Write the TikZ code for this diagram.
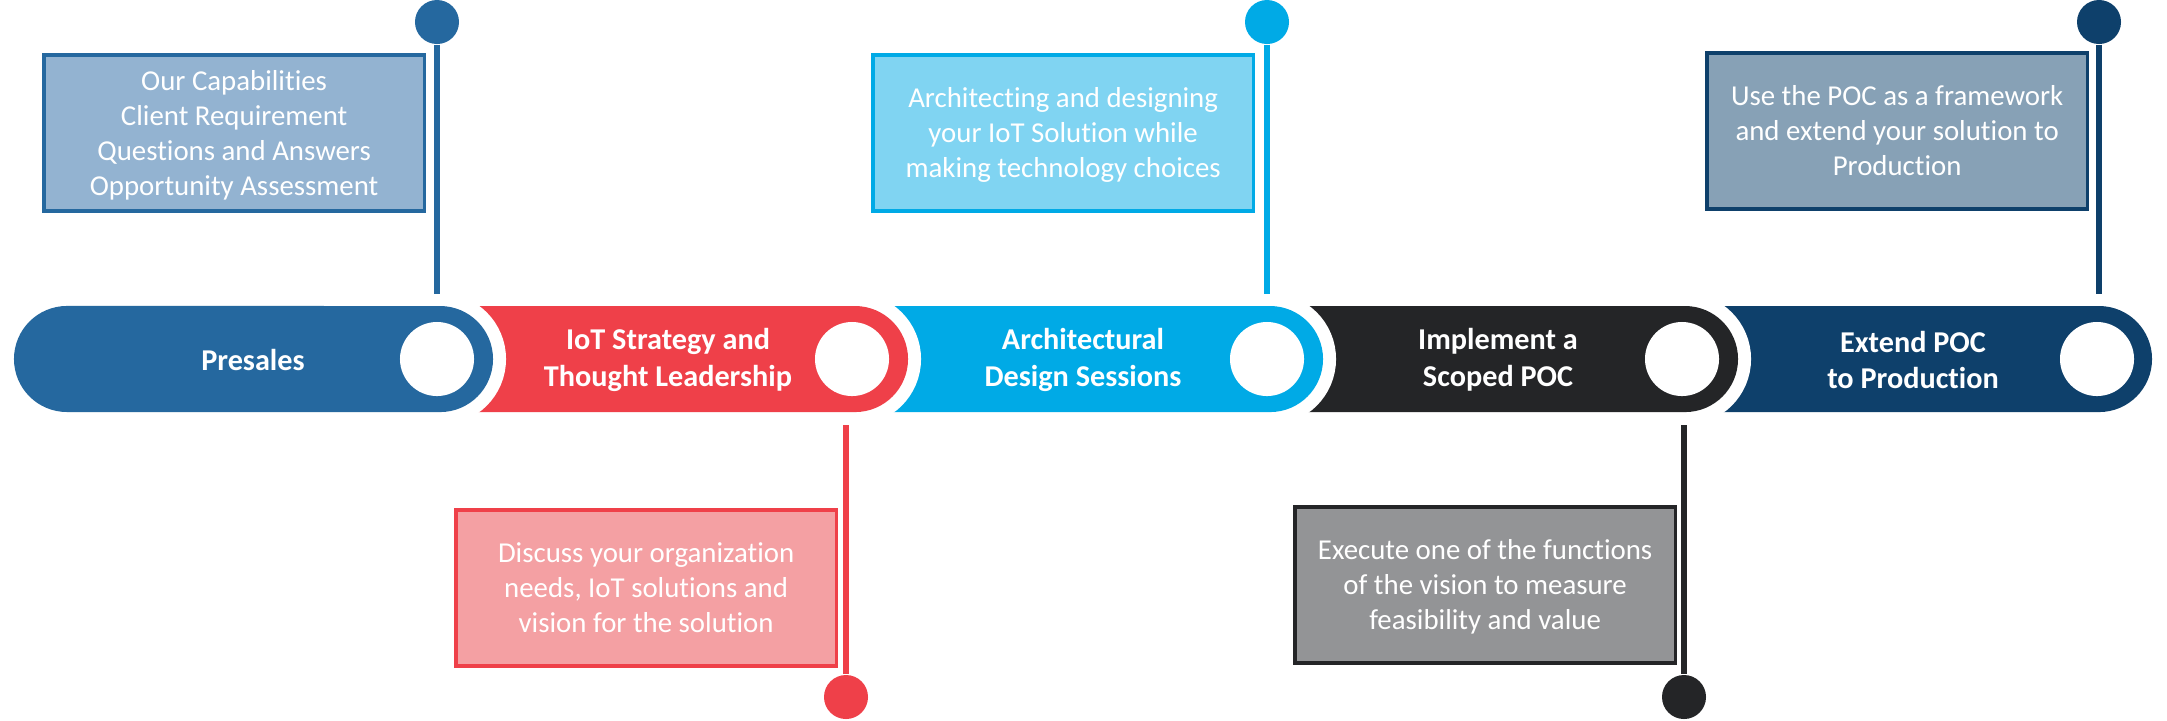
\documentclass[tikz,border=0pt]{standalone}
\usepackage{fontspec}
\setmainfont{Carlito}[Ligatures=NoCommon]
\definecolor{presblue}{HTML}{25689F}
\definecolor{preslight}{HTML}{93B3D1}
\definecolor{iotred}{HTML}{EF4049}
\definecolor{iotlight}{HTML}{F4A0A3}
\definecolor{archcyan}{HTML}{00AAE6}
\definecolor{archlight}{HTML}{80D4F2}
\definecolor{pocdark}{HTML}{242527}
\definecolor{poclight}{HTML}{939496}
\definecolor{extnavy}{HTML}{0E406B}
\definecolor{extlight}{HTML}{87A1B6}
\tikzset{
  seg/.style={fill=#1, preaction={draw=white, line width=0.26cm}},
  hole/.style={circle, fill=white, minimum size=0.74cm, inner sep=0pt},
  title/.style={text=white, align=center, font=\fontsize{8.6}{10.5}\selectfont\bfseries},
  note/.style={draw=#1, line width=0.035cm, minimum width=3.8cm, minimum height=1.56cm,
    inner sep=0pt, text=white, align=center, anchor=north east, text depth=0pt,
    font=\fontsize{8.2}{10}\selectfont},
  knob/.style={circle, fill=#1, minimum size=0.44cm, inner sep=0pt},
  stem/.style={draw=#1, line width=0.055cm},
}

\begin{document}
\begin{tikzpicture}[x=0.01cm, y=-0.01cm]
    \useasboundingbox (0,0) rectangle (2167,720);

    % bar, drawn from the right so each round end sits on the next part
    \path[seg=extnavy] (1685,306) -- (2099,306) arc[start angle=90, end angle=-90, radius=0.53cm] -- (1685,412) -- cycle;
    \path[seg=pocdark] (1270,306) -- (1685,306) arc[start angle=90, end angle=-90, radius=0.53cm] -- (1270,412) -- cycle;
    \path[seg=archcyan] (855,306) -- (1270,306) arc[start angle=90, end angle=-90, radius=0.53cm] -- (855,412) -- cycle;
    \path[seg=iotred] (440,306) -- (855,306) arc[start angle=90, end angle=-90, radius=0.53cm] -- (440,412) -- cycle;
    \path[seg=presblue] (67,412) arc[start angle=270, end angle=90, radius=0.53cm] -- (440,306) arc[start angle=90, end angle=-90, radius=0.53cm] -- cycle;

    \node[hole] (pre) at (437,359) {};
    \node[hole] (iot) at (852,359) {};
    \node[hole] (arch) at (1267,359) {};
    \node[hole] (poc) at (1682,359) {};
    \node[hole] (ext) at (2097,359) {};

    \node[title] (pret) at (253,360) {Presales};
    \node[title] (iott) at (668,360) {IoT Strategy and\\Thought Leadership};
    \node[title] (archt) at (1083,360) {Architectural\\Design Sessions};
    \node[title] (poct) at (1498,360) {Implement a\\Scoped POC};
    \node[title] (extt) at (1913,360) {Extend POC\\to Production};

    % pins above the bar
    \node[knob=presblue] (prek) at (437,22) {};
    \node[knob=archcyan] (archk) at (1267,22) {};
    \node[knob=extnavy] (extk) at (2099,22) {};
    \coordinate (prep) at (437,294);
    \coordinate (archp) at (1267,294);
    \coordinate (extp) at (2099,294);
    \draw[stem=presblue] (prek) -- (prep);
    \draw[stem=archcyan] (archk) -- (archp);
    \draw[stem=extnavy] (extk) -- (extp);

    % pins below the bar
    \node[knob=iotred] (iotk) at (846,697) {};
    \node[knob=pocdark] (pock) at (1684,697) {};
    \coordinate (iotp) at (846,425);
    \coordinate (pocp) at (1684,425);
    \draw[stem=iotred] (iotp) -- (iotk);
    \draw[stem=pocdark] (pocp) -- (pock);

    \node[note=presblue, fill=preslight] (pren) at (426,53)
      {Our Capabilities\\Client Requirement\\Questions and Answers\\Opportunity Assessment};
    \node[note=archcyan, fill=archlight] (archn) at (1255,53)
      {Architecting and designing\\your IoT Solution while\\making technology choices};
    \node[note=extnavy, fill=extlight] (extn) at (2089,51)
      {Use the POC as a framework\\and extend your solution to\\Production};
    \node[note=iotred, fill=iotlight] (iotn) at (838,508)
      {Discuss your organization\\needs, IoT solutions and\\vision for the solution};
    \node[note=pocdark, fill=poclight] (pocn) at (1677,505)
      {Execute one of the functions\\of the vision to measure\\feasibility and value};
\end{tikzpicture}
\end{document}
